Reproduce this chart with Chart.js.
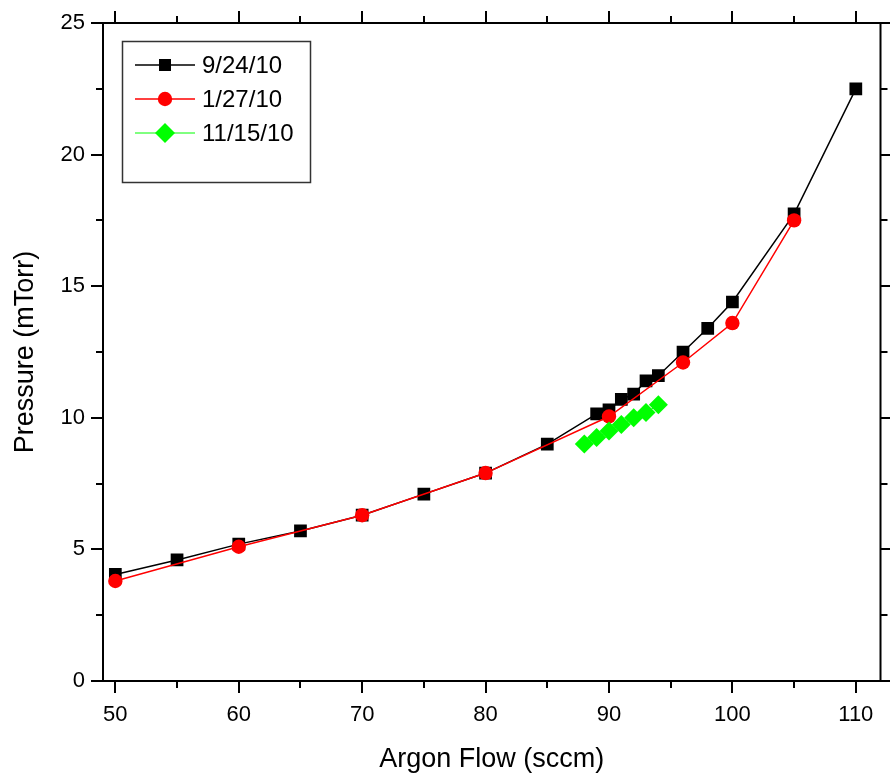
<!DOCTYPE html>
<html>
<head>
<meta charset="utf-8">
<script src="https://cdn.jsdelivr.net/npm/chart.js@4.4.1/dist/chart.umd.min.js"></script>
<style>
  html, body { margin: 0; padding: 0; background: #ffffff; }
  #wrap { width: 890px; height: 776px; }
</style>
</head>
<body>
<div id="wrap"><canvas id="c" width="890" height="776"></canvas></div>
<script>
// ---- Data ----
const seriesLabels = ['9/24/10', '1/27/10', '11/15/10'];

const flowA = [50, 55, 60, 65, 70, 75, 80, 85, 89, 90, 91, 92, 93, 94, 96, 98, 100, 105, 110];
const pressureA = [4.05, 4.6, 5.2, 5.7, 6.3, 7.1, 7.9, 9.0, 10.15, 10.3, 10.7, 10.9, 11.4, 11.6, 12.5, 13.4, 14.4, 17.75, 22.5];

const flowB = [50, 60, 70, 80, 90, 96, 100, 105];
const pressureB = [3.8, 5.1, 6.3, 7.9, 10.05, 12.1, 13.6, 17.5];

const flowC = [88, 89, 90, 91, 92, 93, 94];
const pressureC = [9.0, 9.25, 9.5, 9.75, 10.0, 10.2, 10.5];

const xTicks = [50, 60, 70, 80, 90, 100, 110];
const xMinorTicks = [55, 65, 75, 85, 95, 105];
const yTicks = [0, 5, 10, 15, 20, 25];
const yMinorTicks = [2.5, 7.5, 12.5, 17.5, 22.5];

const xTitle = 'Argon Flow (sccm)';
const yTitle = 'Pressure (mTorr)';

// ---- Build datasets ----
function pts(xs, ys) { return xs.map((x, i) => ({ x: x, y: ys[i] })); }

const FONT = '"Liberation Sans", Arial, Helvetica, sans-serif';

const datasets = [
  {
    label: seriesLabels[0], data: pts(flowA, pressureA),
    borderColor: '#000000', backgroundColor: '#000000', borderWidth: 1.5,
    pointStyle: 'rect', pointRadius: 9, pointBorderWidth: 0,
    pointBackgroundColor: '#000000', order: 3
  },
  {
    label: seriesLabels[1], data: pts(flowB, pressureB),
    borderColor: '#ff0000', backgroundColor: '#ff0000', borderWidth: 1.5,
    pointStyle: 'circle', pointRadius: 7.2, pointBorderWidth: 0,
    pointBackgroundColor: '#ff0000', order: 2
  },
  {
    label: seriesLabels[2], data: pts(flowC, pressureC),
    borderColor: '#00ff00', backgroundColor: '#00ff00', borderWidth: 1,
    pointStyle: 'rectRot', pointRadius: 9.5, pointBorderWidth: 0,
    pointBackgroundColor: '#00ff00', order: 1
  }
];

// ---- Frame, tick marks and legend plugin ----
const framePlugin = {
  id: 'frameTicks',
  afterDraw(chart) {
    const ctx = chart.ctx;
    const a = chart.chartArea;
    const xs = chart.scales.x, ys = chart.scales.y;
    ctx.save();
    ctx.strokeStyle = '#000000';
    ctx.lineWidth = 2;
    ctx.strokeRect(a.left, a.top, a.right - a.left, a.bottom - a.top);
    const MAJ = 12, MIN = 7;
    ctx.beginPath();
    const xt = (v, len) => {
      const p = Math.round(xs.getPixelForValue(v));
      ctx.moveTo(p, a.bottom); ctx.lineTo(p, a.bottom + len);
      ctx.moveTo(p, a.top); ctx.lineTo(p, a.top - len);
    };
    const yt = (v, len) => {
      const p = Math.round(ys.getPixelForValue(v));
      ctx.moveTo(a.left, p); ctx.lineTo(a.left - len, p);
      ctx.moveTo(a.right, p); ctx.lineTo(a.right + len, p);
    };
    xTicks.forEach(v => xt(v, MAJ));
    xMinorTicks.forEach(v => xt(v, MIN));
    yTicks.forEach(v => yt(v, MAJ));
    yMinorTicks.forEach(v => yt(v, MIN));
    ctx.stroke();

    // legend box
    ctx.lineWidth = 1.5;
    ctx.strokeStyle = '#333333';
    ctx.strokeRect(122.5, 41.5, 188, 141);
    const rows = [65, 99, 133];
    chart.data.datasets.forEach((ds, i) => {
      const y = rows[i];
      ctx.beginPath();
      ctx.strokeStyle = ds.borderColor;
      ctx.lineWidth = ds.borderWidth;
      ctx.moveTo(135, y); ctx.lineTo(195, y);
      ctx.stroke();
      ctx.fillStyle = ds.pointBackgroundColor;
      ctx.strokeStyle = ds.pointBackgroundColor;
      Chart.helpers.drawPoint(ctx, {
        pointStyle: ds.pointStyle,
        radius: ds.pointStyle === 'rectRot' ? 10 : (ds.pointStyle === 'rect' ? 8.5 : ds.pointRadius),
        rotation: 0, borderWidth: 0
      }, 165, y);
      ctx.fillStyle = '#000000';
      ctx.font = '24px ' + FONT;
      ctx.textAlign = 'left';
      ctx.textBaseline = 'middle';
      ctx.fillText(ds.label, 202, y + 1);
    });
    ctx.restore();
  }
};

function noOverflow(s) {
  s.paddingTop = 0; s.paddingBottom = 0; s.paddingLeft = 0; s.paddingRight = 0;
}

new Chart(document.getElementById('c'), {
  type: 'line',
  data: { datasets: datasets },
  options: {
    responsive: false,
    animation: false,
    devicePixelRatio: 1,
    layout: { padding: { top: 23, right: 9, left: 0, bottom: 0 } },
    plugins: { legend: { display: false }, tooltip: { enabled: false } },
    elements: { line: { tension: 0 } },
    scales: {
      x: {
        type: 'linear', position: 'bottom', min: 49, max: 112,
        afterBuildTicks: s => { s.ticks = xTicks.map(v => ({ value: v })); },
        afterFit: s => { s.height = 95; noOverflow(s); },
        grid: { display: false, drawTicks: false },
        border: { display: false },
        ticks: { color: '#000000', font: { family: FONT, size: 22 }, padding: 21, maxRotation: 0 },
        title: { display: true, text: xTitle, color: '#000000',
                 font: { family: FONT, size: 27 }, padding: { top: 0, bottom: 0 } }
      },
      y: {
        type: 'linear', position: 'left', min: 0, max: 25,
        afterBuildTicks: s => { s.ticks = yTicks.map(v => ({ value: v })); },
        afterFit: s => { s.width = 103; noOverflow(s); },
        grid: { display: false, drawTicks: false },
        border: { display: false },
        ticks: { color: '#000000', font: { family: FONT, size: 22 }, padding: 18 },
        title: { display: true, text: yTitle, color: '#000000',
                 font: { family: FONT, size: 27 }, padding: { top: 9, bottom: 0 } }
      }
    }
  },
  plugins: [framePlugin]
});
</script>
</body>
</html>
